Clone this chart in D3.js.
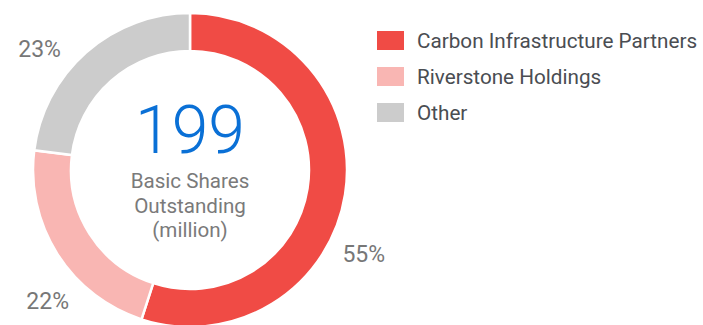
<!DOCTYPE html>
<html>
<head>
<meta charset="utf-8">
<script src="https://cdn.jsdelivr.net/npm/d3@7"></script>
<style>
  html, body { margin: 0; padding: 0; background: #fff; }
  svg { display: block; font-family: Roboto, "Noto Sans", sans-serif; }
</style>
</head>
<body>
<svg id="chart" width="703" height="325"></svg>
<script>
// ---- data ----
const categories = ["Carbon Infrastructure Partners", "Riverstone Holdings", "Other"];
const shares = [55, 22, 23];
const colors = ["#f04b45", "#f9b6b3", "#cccccc"];
const totalValue = "199";
const centerLines = ["Basic Shares", "Outstanding", "(million)"];

// ---- layout ----
const svg = d3.select("#chart");
const cx = 190, cy = 170, outerR = 157, innerR = 119;
const g = svg.append("g").attr("transform", `translate(${cx},${cy})`);

const pie = d3.pie().sort(null).value(d => d);
const arcs = pie(shares);
const arc = d3.arc().innerRadius(innerR).outerRadius(outerR);

g.selectAll("path.slice")
  .data(arcs)
  .join("path")
  .attr("class", "slice")
  .attr("d", arc)
  .attr("fill", (d, i) => colors[i])
  .attr("stroke", "#fff")
  .attr("stroke-width", 2.5);

// percentage labels outside the ring
const labelR = 193;
const angleNudge = [0.293, -0.176, -0.171]; // radians, shift from mid-angle
g.selectAll("text.pct")
  .data(arcs)
  .join("text")
  .attr("class", "pct")
  .attr("x", (d, i) => labelR * Math.sin((d.startAngle + d.endAngle) / 2 + angleNudge[i]))
  .attr("y", (d, i) => -labelR * Math.cos((d.startAngle + d.endAngle) / 2 + angleNudge[i]))
  .attr("dy", "0.36em")
  .attr("text-anchor", "middle")
  .attr("font-size", 23)
  .attr("fill", "#777777")
  .text(d => d.data + "%");

// center text
g.append("text")
  .attr("x", 0).attr("y", -17)
  .attr("text-anchor", "middle")
  .attr("font-size", 66)
  .attr("font-weight", 300)
  .attr("fill", "#0a70d6")
  .text(totalValue);

g.selectAll("text.center")
  .data(centerLines)
  .join("text")
  .attr("class", "center")
  .attr("x", 0)
  .attr("y", (d, i) => 18 + i * 24.5)
  .attr("text-anchor", "middle")
  .attr("font-size", 20.6)
  .attr("fill", "#7a7a7a")
  .text(d => d);

// legend
const legend = svg.append("g").attr("transform", "translate(377,31)");
const rowH = 36;
const items = legend.selectAll("g.item")
  .data(categories)
  .join("g")
  .attr("class", "item")
  .attr("transform", (d, i) => `translate(0,${i * rowH})`);
items.append("rect")
  .attr("width", 27).attr("height", 19)
  .attr("fill", (d, i) => colors[i]);
items.append("text")
  .attr("x", 40).attr("y", 10)
  .attr("dy", "0.36em")
  .attr("font-size", 20.7)
  .attr("fill", "#4a4d52")
  .text(d => d);
</script>
</body>
</html>
